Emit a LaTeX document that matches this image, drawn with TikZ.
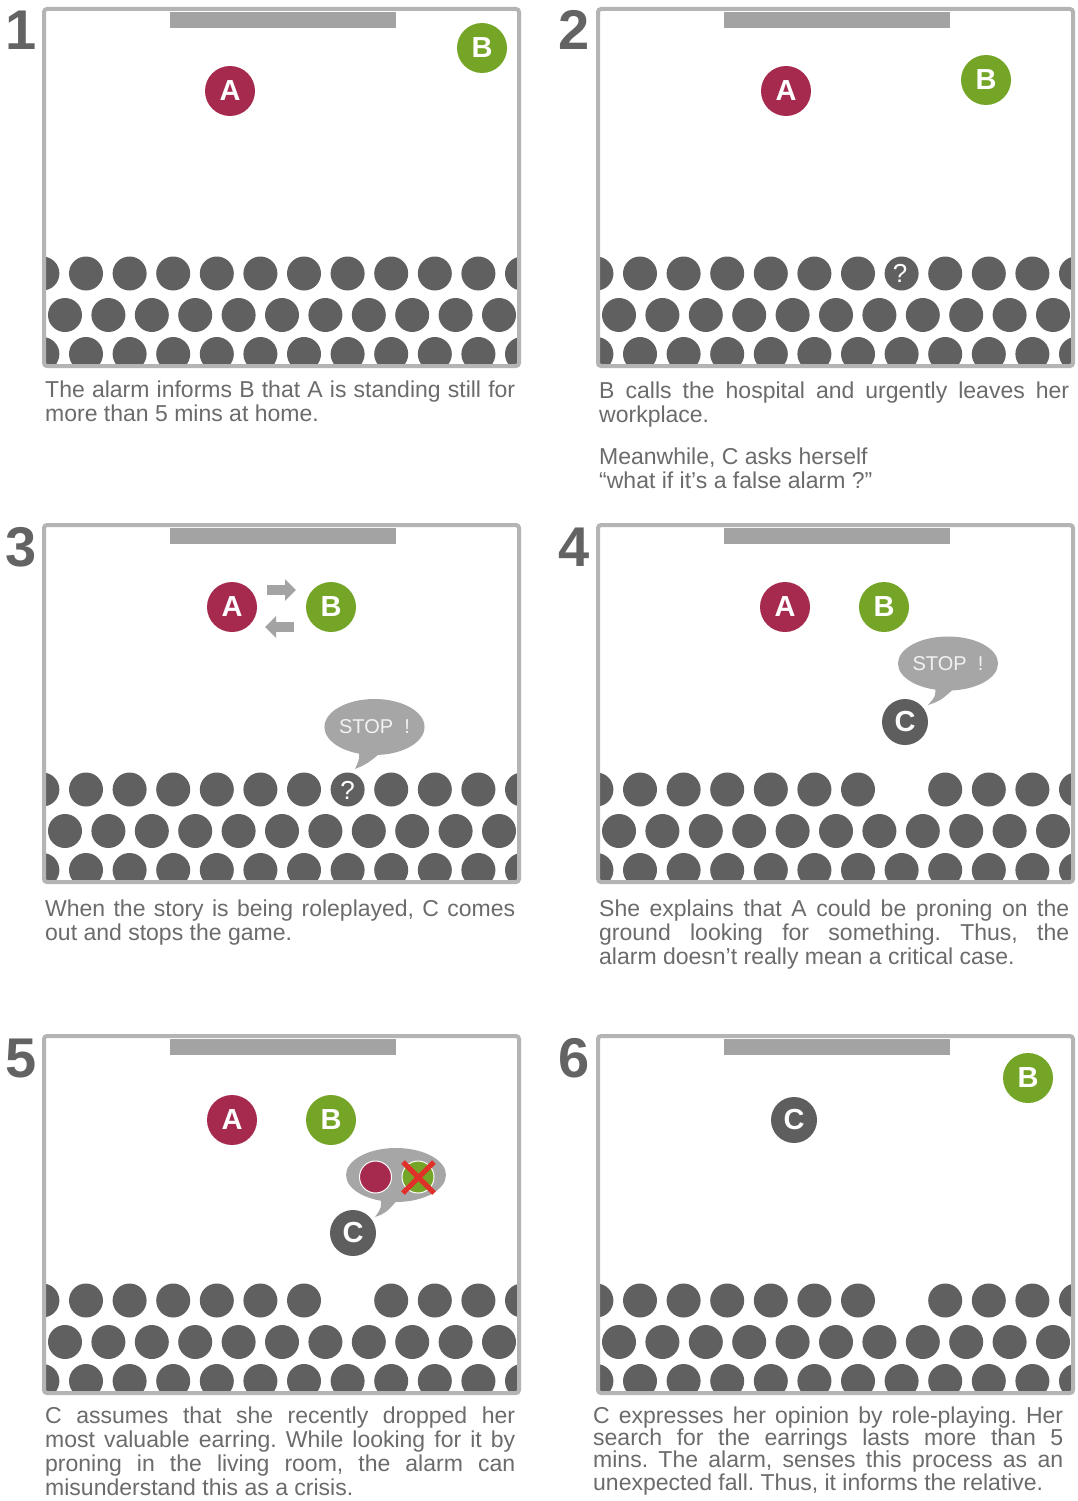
\documentclass[tikz,border=0pt]{standalone}
\usepackage{fontspec}
\setmainfont{Liberation Sans}
\usetikzlibrary{arrows.meta,shapes.geometric}
\frenchspacing

\definecolor{framegray}{HTML}{B4B4B4}
\definecolor{bargray}{HTML}{A3A3A3}
\definecolor{dotgray}{HTML}{606060}
\definecolor{acol}{HTML}{A52A4E}
\definecolor{bcol}{HTML}{74A527}
\definecolor{ccol}{HTML}{5E5E5E}
\definecolor{bubblegray}{HTML}{A6A6A6}
\definecolor{numgray}{HTML}{636363}
\definecolor{textgray}{HTML}{6B6B6B}
\definecolor{xred}{HTML}{E0302A}

\begin{document}
\begin{tikzpicture}[
  x=1pt, y=-1pt,
  panel/.style={draw=framegray, line width=4pt, rounded corners=3pt},
  person/.style={circle, text=white, inner sep=0, minimum size=50pt, font=\bfseries\fontsize{29}{29}\selectfont},
  pa/.style={person, fill=acol},
  pb/.style={person, fill=bcol},
  pc/.style={person, fill=ccol, minimum size=46pt},
  bubble/.style={ellipse, fill=bubblegray, text=white!95!black, inner sep=0, font=\fontsize{20}{20}\selectfont},
  quest/.style={text=white, inner sep=0, font=\fontsize{26}{26}\selectfont},
  num/.style={anchor=base east, inner sep=0, text=numgray, font=\bfseries\fontsize{56}{56}\selectfont},
  txt/.style={anchor=base west, inner sep=0, text width=470pt, align=justify, text=textgray, font=\fontsize{23}{24}\selectfont}
]
\fill[white] (0,0) rectangle (1078,1501);
\useasboundingbox (0,0) rectangle (1078,1501);

% rooms: left edge / top edge / missing dot of the first row
\foreach \x/\y/\m in {42/7/99, 596/7/99, 42/523/99, 596/523/7, 42/1034/7, 596/1034/7}{
  \begin{scope}
    \clip (\x+4,\y+4) rectangle (\x+475,\y+356);
    \foreach \i in {0,...,11}{
      \ifnum\i=\m\relax\else
        \fill[dotgray] (\x+0.4+43.6*\i,\y+266.5) circle (17pt);
      \fi
      \fill[dotgray] (\x+0.4+43.6*\i,\y+347) circle (17pt);
    }
    \foreach \j in {0,...,10}
      \fill[dotgray] (\x+23+43.4*\j,\y+308) circle (17pt);
  \end{scope}
  \fill[bargray] (\x+128,\y+5) rectangle (\x+354,\y+21);
  \draw[panel] (\x+2,\y+2) rectangle (\x+477,\y+359);
}

% numbers
\node[num] (n1) at (37,50) {1};
\node[num] (n2) at (590,50) {2};
\node[num] (n3) at (37,566) {3};
\node[num] (n4) at (590,566) {4};
\node[num] (n5) at (37,1077) {5};
\node[num] (n6) at (590,1077) {6};

% 1
\node[pa] (a1) at (230,91) {A};
\node[pb] (b1) at (482,48) {B};
\node[txt] (t1) at (45,397) {The alarm informs B that A is standing still for\linebreak more than 5 mins at home.};

% 2
\node[pa] (a2) at (786,91) {A};
\node[pb] (b2) at (986,80) {B};
\node[quest] (q2) at (900,273.5) {?};
\node[txt] (t2) at (599,398) {B calls the hospital and urgently leaves her\linebreak workplace.\par\vskip18pt Meanwhile, C asks herself\par “what if it’s a false alarm ?”};

% 3
\node[pa] (a3) at (232,607) {A};
\node[pb] (b3) at (331,607) {B};
\coordinate (r3s) at (267,590);
\coordinate (r3e) at (296,590);
\coordinate (l3s) at (294,627);
\coordinate (l3e) at (265,627);
\draw[bargray, line width=10pt, -{Triangle[length=11pt,width=21pt]}] (r3s) -- (r3e);
\draw[bargray, line width=10pt, -{Triangle[length=11pt,width=21pt]}] (l3s) -- (l3e);
\node[quest] (q3) at (347.6,790.5) {?};
\node[bubble, minimum width=97pt, minimum height=56pt] (s3) at (374.5,727) {STOP~~!};
\fill[bubblegray] (358,748) .. controls (360,758) .. (355,769) .. controls (367,764) .. (384,750) -- cycle;
\node[txt] (t3) at (45,916) {When the story is being roleplayed, C comes\linebreak out and stops the game.};

% 4
\node[pa] (a4) at (785,607) {A};
\node[pb] (b4) at (884,607) {B};
\node[bubble, minimum width=98pt, minimum height=54pt] (s4) at (948,663.5) {STOP~~!};
\fill[bubblegray] (935,685) .. controls (936,696) .. (928,705) .. controls (940,701) .. (956,687) -- cycle;
\node[pc] (c4) at (905,722) {C};
\node[txt] (t4) at (599,916) {She explains that A could be proning on the\linebreak ground looking for something. Thus, the\linebreak alarm doesn’t really mean a critical case.};

% 5
\node[pa] (a5) at (232,1120) {A};
\node[pb] (b5) at (331,1120) {B};
\node[ellipse, fill=bubblegray, minimum width=100pt, minimum height=54pt] (s5) at (396,1175) {};
\fill[bubblegray] (380,1195) .. controls (382,1207) .. (375,1217) .. controls (386,1213) .. (400,1197) -- cycle;
\fill[acol, draw=white, line width=1pt] (375.5,1177) circle (16pt);
\fill[bcol, draw=white, line width=1pt] (418,1177) circle (16pt);
\draw[xred, line width=5pt] (403,1162) -- (434,1193) (403,1193) -- (434,1162);
\node[pc] (c5) at (353,1233) {C};
\node[txt] (t5) at (45,1423) {C assumes that she recently dropped her\linebreak most valuable earring. While looking for it by\linebreak proning in the living room, the alarm can\linebreak misunderstand this as a crisis.};

% 6
\node[pb] (b6) at (1028,1078) {B};
\node[pc] (c6) at (794,1120) {C};
\node[txt, font=\fontsize{23}{22.4}\selectfont] (t6) at (593,1423) {C expresses her opinion by role-playing. Her\linebreak search for the earrings lasts more than 5\linebreak mins. The alarm, senses this process as an\linebreak unexpected fall. Thus, it informs the relative.};
\end{tikzpicture}
\end{document}
